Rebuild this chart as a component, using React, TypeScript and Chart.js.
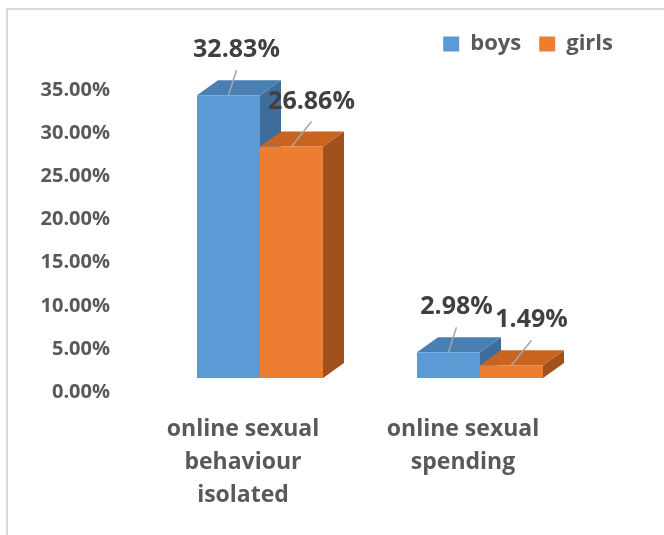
import React, { useEffect, useRef } from "react";
import { Chart, registerables } from "chart.js";

Chart.register(...registerables);

// ---- data ----
const categories: string[][] = [
  ["online sexual", "behaviour", "isolated"],
  ["online sexual", "spending"],
];
const seriesNames = ["boys", "girls"];
const boysValues = [32.83, 2.98];
const girlsValues = [26.86, 1.49];
const yTickStep = 5;
const yMin = 0;
const yMax = 36.33;

// ---- styles ----
const FONT = '"Open Sans", "Noto Sans", sans-serif';
const FRONT = ["#5B9BD5", "#ED7D31"];
const TOP = ["#4A7FB3", "#C8641F"];
const SIDE = ["#3F6D9B", "#A1521C"];
const DEPTH_X = 21;
const DEPTH_Y = -15;
const LEADER_DX = [8, 20];
const LEADER_DY = 25;

const bar3dPlugin = {
  id: "bar3d",
  beforeDatasetsDraw(chart: any) {
    const ctx = chart.ctx;
    ctx.save();
    chart.data.datasets.forEach((_ds: any, idx: number) => {
      const meta = chart.getDatasetMeta(idx);
      meta.data.forEach((el: any) => {
        const { x, y, base, width } = el.getProps(["x", "y", "base", "width"], true);
        const l = x - width / 2;
        const r = x + width / 2;
        // side face
        ctx.fillStyle = SIDE[idx];
        ctx.beginPath();
        ctx.moveTo(r, y);
        ctx.lineTo(r + DEPTH_X, y + DEPTH_Y);
        ctx.lineTo(r + DEPTH_X, base + DEPTH_Y);
        ctx.lineTo(r, base);
        ctx.closePath();
        ctx.fill();
        // top face
        ctx.fillStyle = TOP[idx];
        ctx.beginPath();
        ctx.moveTo(l, y);
        ctx.lineTo(l + DEPTH_X, y + DEPTH_Y);
        ctx.lineTo(r + DEPTH_X, y + DEPTH_Y);
        ctx.lineTo(r, y);
        ctx.closePath();
        ctx.fill();
      });
    });
    ctx.restore();
  },
  afterDatasetsDraw(chart: any) {
    const ctx = chart.ctx;
    ctx.save();
    chart.data.datasets.forEach((ds: any, di: number) => {
      const meta = chart.getDatasetMeta(di);
      meta.data.forEach((el: any, i: number) => {
        const { x, y } = el.getProps(["x", "y"], true);
        const tx = x + LEADER_DX[di];
        const ty = y - LEADER_DY;
        ctx.strokeStyle = "#A6A6A6";
        ctx.lineWidth = 1.5;
        ctx.beginPath();
        ctx.moveTo(x, y);
        ctx.lineTo(tx, ty);
        ctx.stroke();
        ctx.fillStyle = "#404040";
        ctx.font = `bold 25px ${FONT}`;
        ctx.textAlign = "center";
        ctx.textBaseline = "middle";
        ctx.fillText(ds.data[i].toFixed(2) + "%", tx, ty - 20);
      });
    });
    ctx.restore();
  },
};

export default function App() {
  const ref = useRef<HTMLCanvasElement>(null);
  useEffect(() => {
    if (!ref.current) return;
    const chart = new Chart(ref.current, {
      type: "bar",
      data: {
        labels: categories,
        datasets: [
          {
            label: seriesNames[0],
            data: boysValues,
            backgroundColor: FRONT[0],
            categoryPercentage: 0.573,
            barPercentage: 1,
          },
          {
            label: seriesNames[1],
            data: girlsValues,
            backgroundColor: FRONT[1],
            categoryPercentage: 0.573,
            barPercentage: 1,
          },
        ],
      },
      options: {
        animation: false,
        responsive: false,
        layout: { padding: { top: 15, right: 33, left: 0, bottom: 0 } },
        plugins: {
          tooltip: { enabled: false },
          legend: {
            position: "top",
            align: "end",
            labels: {
              boxWidth: 16,
              boxHeight: 15,
              padding: 18,
              color: "#595959",
              font: { family: FONT, size: 22, weight: "bold" },
            },
          },
        },
        scales: {
          x: {
            grid: { display: false },
            border: { display: false },
            ticks: {
              color: "#595959",
              font: { family: FONT, size: 23, weight: "bold", lineHeight: "33px" },
              padding: 27,
              labelOffset: -17,
              maxRotation: 0,
              autoSkip: false,
            },
            afterFit: (s: any) => {
              s.height = 157;
            },
          },
          y: {
            min: yMin,
            max: yMax,
            grid: { display: false },
            border: { display: false },
            ticks: {
              stepSize: yTickStep,
              includeBounds: false,
              color: "#595959",
              font: { family: FONT, size: 20, weight: "bold" },
              padding: 32,
              labelOffset: 14,
              callback: (v: any) => Number(v).toFixed(2) + "%",
            },
            afterFit: (s: any) => {
              s.width = 150;
            },
          },
          yR: {
            type: "linear",
            position: "right",
            grid: { display: false },
            border: { display: false },
            ticks: { display: false },
            afterFit: (s: any) => {
              s.width = 41;
            },
          },
        },
      },
      plugins: [bar3dPlugin],
    } as any);
    return () => chart.destroy();
  }, []);

  return (
    <div
      style={{
        position: "fixed",
        left: 0,
        top: 0,
        width: 664,
        height: 535,
        background: "#fff",
        overflow: "hidden",
      }}
    >
      <div
        style={{
          position: "absolute",
          left: 6,
          top: 8,
          width: 720,
          height: 620,
          border: "2px solid #D9D9D9",
        }}
      />
      <canvas
        ref={ref}
        width={664}
        height={535}
        style={{ position: "absolute", left: 0, top: 0 }}
      />
    </div>
  );
}
